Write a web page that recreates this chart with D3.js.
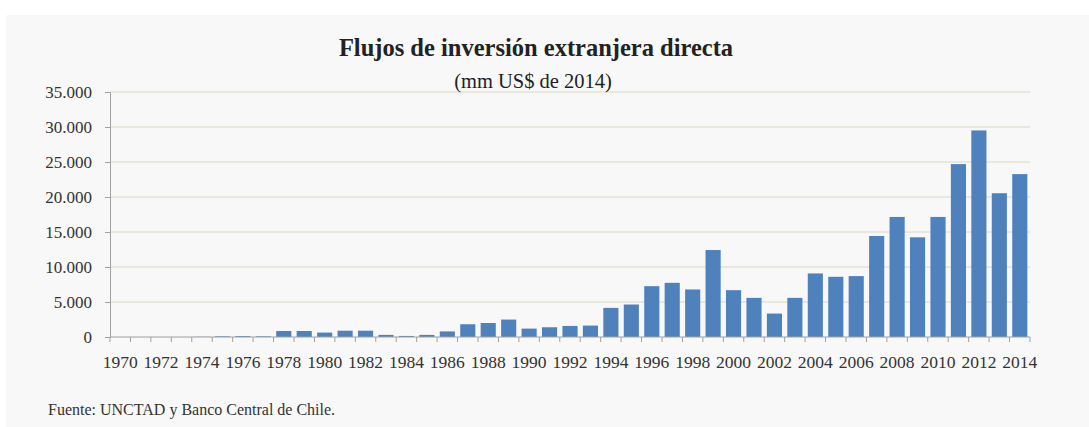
<!DOCTYPE html>
<html><head><meta charset="utf-8">
<script src="https://cdn.jsdelivr.net/npm/d3@7"></script>
<style>body{margin:0;background:#fff;}svg{display:block;}</style>
</head><body>
<svg id="c" width="1089" height="427"></svg>
<script>
const years = d3.range(1970, 2015);
const values = [0, 0, 0, 0, 30, 100, 130, 100, 860, 860, 630, 900, 900, 300,
  150, 300, 800, 1820, 2000, 2490, 1200, 1390, 1580, 1630, 4160, 4640, 7260, 7740,
  6790, 12420, 6690, 5590, 3350, 5590, 9080, 8600, 8700, 14430, 17150, 14240,
  17150, 24700, 29510, 20540, 23270];
const yTicks = [0, 5000, 10000, 15000, 20000, 25000, 30000, 35000];
const xLabels = years.filter(y => y % 2 === 0);
const title = "Flujos de inversión extranjera directa";
const subtitle = "(mm US$ de 2014)";
const source = "Fuente: UNCTAD y Banco Central de Chile.";

const svg = d3.select("#c");
const font = "'Liberation Serif', 'DejaVu Serif', serif";
svg.append("rect").attr("x", 6).attr("y", 15).attr("width", 1083).attr("height", 412).attr("fill", "#f8f8f8");

const x = d3.scaleBand().domain(years).range([110, 1030]).paddingInner(0.26).paddingOuter(0.13);
const y = d3.scaleLinear().domain([0, 35000]).range([337, 92]);

// gridlines
svg.append("g").selectAll("line").data(yTicks.filter(d => d > 0)).join("line")
  .attr("x1", 110).attr("x2", 1030).attr("y1", d => y(d)).attr("y2", d => y(d))
  .attr("stroke", "#e6e2d2").attr("stroke-width", 1.5);

// bars
svg.append("g").selectAll("rect").data(years).join("rect")
  .attr("x", d => x(d)).attr("width", x.bandwidth())
  .attr("y", (d, i) => y(values[i])).attr("height", (d, i) => y(0) - y(values[i]))
  .attr("fill", "#4f81bd");

// y axis
const yAxis = svg.append("g").attr("transform", "translate(110,0)")
  .call(d3.axisLeft(y).tickValues(yTicks).tickSize(5).tickPadding(13)
    .tickFormat(d => d3.format(",")(d).replace(/,/g, ".")));
yAxis.select(".domain").attr("stroke", "#a0a0a0");
yAxis.selectAll(".tick line").attr("stroke", "#a0a0a0");
yAxis.selectAll("text").attr("font-family", font).attr("font-size", 17).attr("fill", "#333");

// x axis
const step = x.step();
const xg = svg.append("g");
xg.append("line").attr("x1", 110).attr("x2", 1030).attr("y1", y(0)).attr("y2", y(0)).attr("stroke", "#a0a0a0");
xg.selectAll("line.t").data(d3.range(years.length + 1)).join("line").attr("class", "t")
  .attr("x1", i => 110 + i * step).attr("x2", i => 110 + i * step)
  .attr("y1", y(0)).attr("y2", y(0) + 5).attr("stroke", "#a0a0a0");
xg.selectAll("text").data(xLabels).join("text")
  .attr("x", d => x(d) + x.bandwidth() / 2).attr("y", 368)
  .attr("text-anchor", "middle").attr("font-family", font).attr("font-size", 17.5).attr("fill", "#333")
  .text(d => d);

// titles
svg.append("text").attr("x", 536).attr("y", 56).attr("text-anchor", "middle")
  .attr("font-family", font).attr("font-weight", "bold").attr("font-size", 24.5).attr("fill", "#222").text(title);
svg.append("text").attr("x", 533).attr("y", 88).attr("text-anchor", "middle")
  .attr("font-family", font).attr("font-size", 20.5).attr("fill", "#222").text(subtitle);
svg.append("text").attr("x", 48).attr("y", 415)
  .attr("font-family", font).attr("font-size", 16).attr("fill", "#333").text(source);
</script>
</body></html>
